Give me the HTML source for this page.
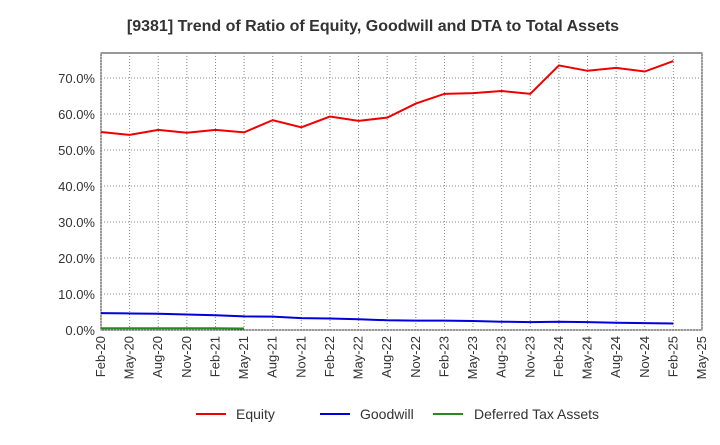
<!DOCTYPE html>
<html><head><meta charset="utf-8"><style>
body{margin:0;background:#fff;font-family:"Liberation Sans",sans-serif}
</style></head><body>
<svg id="c" width="720" height="440" xmlns="http://www.w3.org/2000/svg">
<text x="373" y="31" text-anchor="middle" font-size="16" font-weight="bold" fill="#333">[9381]  Trend of Ratio of Equity, Goodwill and DTA to Total Assets</text>
<g id="grid"></g><g id="axes"></g><g id="series"></g>
<g>
<line x1="196" y1="414" x2="226" y2="414" stroke="#e00" stroke-width="2"/><text x="236" y="419" font-size="14" fill="#333">Equity</text>
<line x1="320" y1="414" x2="350" y2="414" stroke="#00d" stroke-width="2"/><text x="360" y="419" font-size="14" fill="#333">Goodwill</text>
<line x1="433" y1="414" x2="463" y2="414" stroke="#228b22" stroke-width="2"/><text x="474" y="419" font-size="14" fill="#333">Deferred Tax Assets</text>
</g>
</svg>
<script>
const xLabels=["Feb-20","May-20","Aug-20","Nov-20","Feb-21","May-21","Aug-21","Nov-21","Feb-22","May-22","Aug-22","Nov-22","Feb-23","May-23","Aug-23","Nov-23","Feb-24","May-24","Aug-24","Nov-24","Feb-25","May-25"];
const yTicks=[0,10,20,30,40,50,60,70];
const equity=[55.0,54.2,55.6,54.8,55.6,54.9,58.3,56.3,59.3,58.1,59.0,62.9,65.6,65.8,66.4,65.6,73.5,72.0,72.8,71.8,74.7];
const goodwill=[4.7,4.6,4.5,4.3,4.1,3.8,3.7,3.3,3.2,3.0,2.7,2.6,2.6,2.5,2.3,2.2,2.3,2.2,2.0,1.9,1.8];
const dta=[0.5,0.5,0.5,0.5,0.5,0.4];
const L=101,R=702,T=53,B=330;
const x=i=>L+i*(R-L)/(xLabels.length-1);
const y=v=>B-v*(B-78)/70;
const ns="http://www.w3.org/2000/svg";
function mk(tag,attrs,parent){const e=document.createElementNS(ns,tag);for(const k in attrs)e.setAttribute(k,attrs[k]);parent.appendChild(e);return e;}
const grid=document.getElementById('grid'),axes=document.getElementById('axes'),ser=document.getElementById('series');
mk('rect',{x:L,y:T,width:R-L,height:B-T,fill:'#fff',stroke:'#333'},grid);
xLabels.forEach((l,i)=>{
  const g=mk('line',{x1:x(i),x2:x(i),y1:T,y2:B,stroke:'#888','stroke-dasharray':'1,2'},grid);
  
  
  const t=mk('text',{x:x(i)+4,y:B+6,'font-size':13,fill:'#333','text-anchor':'end',transform:`rotate(-90 ${x(i)+4} ${B+6})`},axes);
  t.textContent=l;
  
  
});
yTicks.forEach(v=>{
  const g=mk('line',{x1:L,x2:R,y1:y(v),y2:y(v),stroke:'#888','stroke-dasharray':'1,2'},grid);
  
  
  const t=mk('text',{x:L-6,y:y(v)+5,'font-size':13,fill:'#333','text-anchor':'end'},axes);
  t.textContent=v.toFixed(1)+'%';
  
  
});
function line(data,color,name){
  const p=mk('polyline',{points:data.map((v,i)=>x(i)+','+y(v)).join(' '),fill:'none',stroke:color,'stroke-width':2},ser);
  
  
}
line(equity,'#e00','equity-line');
line(goodwill,'#00d','goodwill-line');
line(dta,'#228b22','dta-line');
</script>
</body></html>
